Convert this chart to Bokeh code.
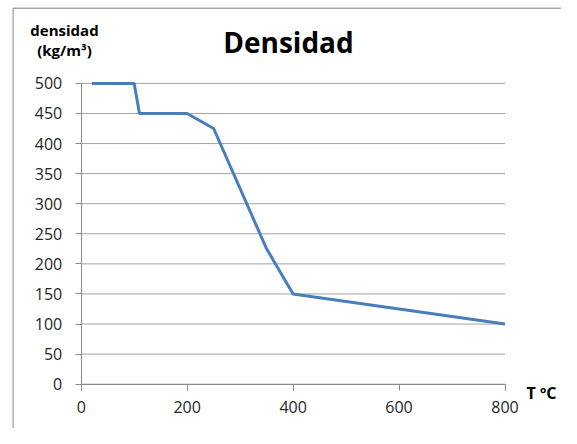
from bokeh.plotting import figure
from bokeh.models import Range1d, Label, FixedTicker, BoxAnnotation
from bokeh.embed import file_html
from bokeh.resources import INLINE

temperatura = [20, 100, 110, 200, 250, 350, 400, 800]
densidad = [500, 500, 450, 450, 425, 225, 150, 100]
x_ticks = [0, 200, 400, 600, 800]
y_ticks = [0, 50, 100, 150, 200, 250, 300, 350, 400, 450, 500]

FONT = "Open Sans"
W, H = 561, 428
# pixel layout of the plotting area inside the canvas
PX_X0, PX_X1 = 80.7, 504.5     # canvas x of T=0 and T=800
PX_Y0, PX_Y1 = 383.7, 82.9     # canvas y of 0 and 500
x_lo, x_hi = x_ticks[0], x_ticks[-1]
y_lo, y_hi = y_ticks[0], y_ticks[-1]
sx = (PX_X1 - PX_X0) / (x_hi - x_lo)
sy = (PX_Y0 - PX_Y1) / (y_hi - y_lo)

def px_x(cx):
    return x_lo + (cx - PX_X0) / sx

def px_y(cy):
    return y_lo + (PX_Y0 - cy) / sy

p = figure(width=W, height=H, output_backend="svg", toolbar_location=None,
           x_range=Range1d(px_x(0), px_x(W)), y_range=Range1d(px_y(H), px_y(0)),
           min_border_left=0, min_border_right=0, min_border_top=0, min_border_bottom=0)
p.outline_line_color = None
p.background_fill_color = "white"
p.border_fill_color = "white"
p.xgrid.grid_line_color = None
p.ygrid.grid_line_color = None

# border of chart area
p.add_layout(BoxAnnotation(left=px_x(12.6), top=px_y(7.7), fill_alpha=0,
                           line_color="#868686", line_alpha=1.0, line_width=1))

# horizontal gridlines between the axis bounds
p.segment(x0=[x_lo] * len(y_ticks), x1=[x_hi] * len(y_ticks), y0=y_ticks, y1=y_ticks,
          line_color="#a3a3a3", line_width=1)

p.line(temperatura, densidad, line_color="#4a7ebb", line_width=3)

for ax in (p.xaxis[0], p.yaxis[0]):
    ax.axis_line_color = "#8a8a8a"
    ax.major_tick_line_color = "#8a8a8a"
    ax.major_tick_out = 6
    ax.major_tick_in = 0
    ax.minor_tick_line_color = None
    ax.major_label_text_font = FONT
    ax.major_label_text_font_size = "16px"
    ax.major_label_text_color = "#262626"
    ax.fixed_location = 0

p.xaxis.bounds = (x_lo, x_hi)
p.yaxis.bounds = (y_lo, y_hi)
p.xaxis.major_label_standoff = 11
p.yaxis.major_label_standoff = 13
p.xaxis.ticker = FixedTicker(ticks=x_ticks)
p.yaxis.ticker = FixedTicker(ticks=y_ticks)

def add_text(cx, cy, txt, size, align="center"):
    p.add_layout(Label(x=px_x(cx), y=px_y(cy), text=txt,
                       text_font=FONT, text_font_size=size, text_font_style="bold",
                       text_align=align, text_baseline="middle", text_color="black"))

add_text(288, 41, "Densidad", "28px")
add_text(64, 29, "densidad", "15px")
add_text(64, 49, "(kg/m³)", "15px")
add_text(526, 392, "T ºC", "16px", align="left")

open("out.html", "w").write(file_html(p, INLINE))
